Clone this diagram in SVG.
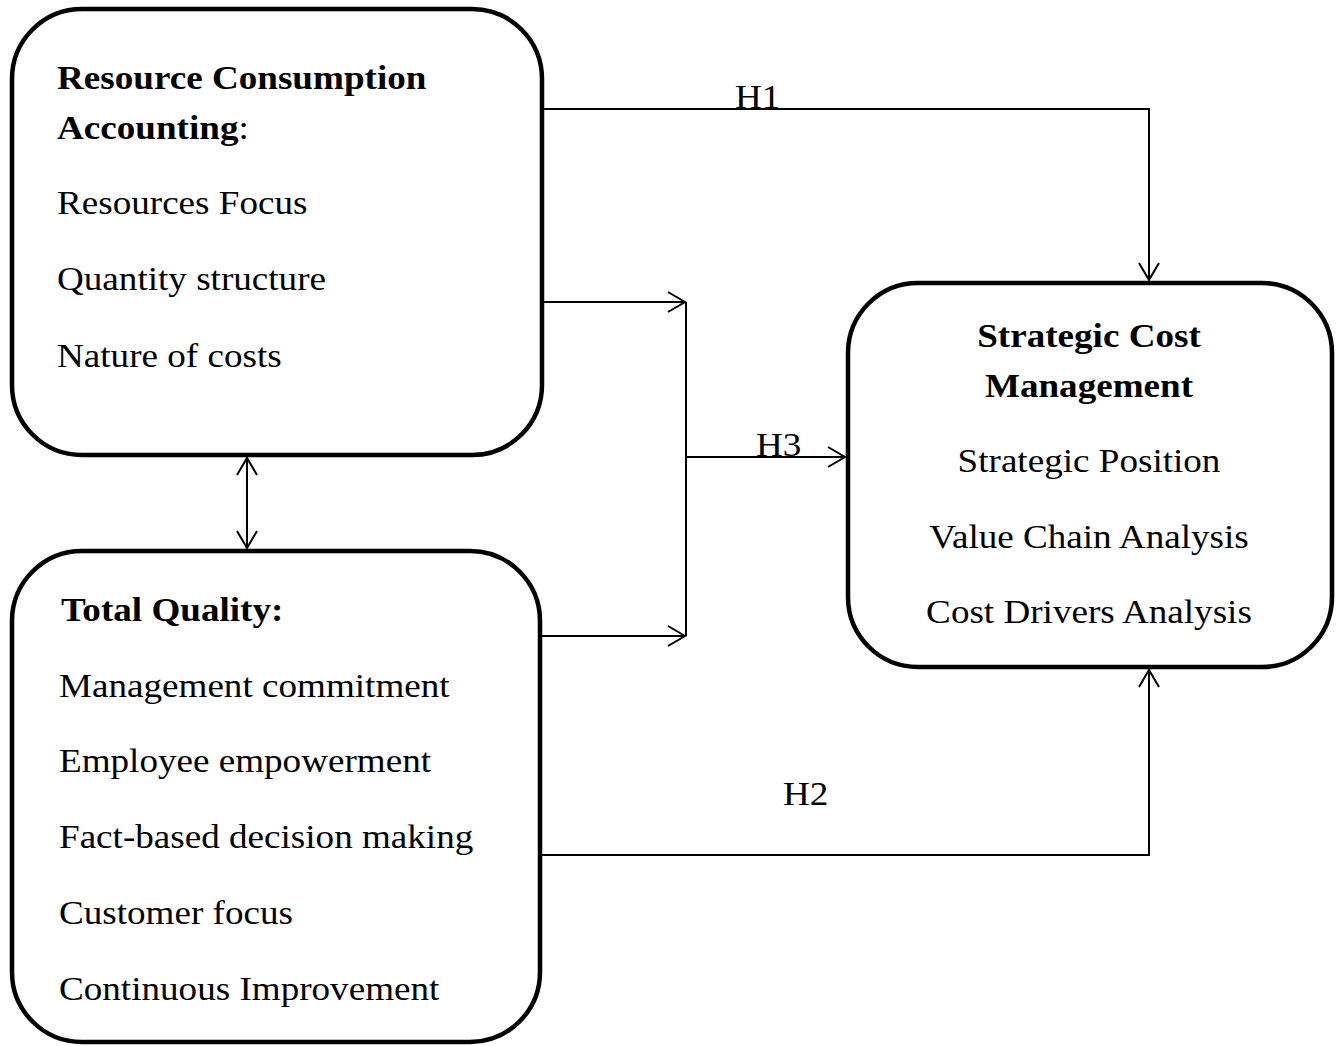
<svg xmlns="http://www.w3.org/2000/svg" width="1342" height="1046" viewBox="0 0 1342 1046">
  <style>
    .box { fill: #ffffff; stroke: #000000; stroke-width: 4.5; }
    .wire { fill: none; stroke: #000000; stroke-width: 2; }
    text { font-family: "Liberation Serif", "Times New Roman", serif; font-size: 33px; fill: #000000; }
    .b { font-weight: bold; }
    .mid { text-anchor: middle; }
  </style>
  <defs>
    <marker id="head" markerUnits="userSpaceOnUse" markerWidth="24" markerHeight="24" viewBox="-20 -12 24 24" refX="0" refY="0" orient="auto-start-reverse">
      <path d="M-17,-10 L0,0 L-17,10" fill="none" stroke="#000000" stroke-width="2"/>
    </marker>
  </defs>
  <rect width="1342" height="1046" fill="#ffffff"/>

  <!-- connectors -->
  <g id="connectors">
    <path class="wire" d="M542,109 H1149 V280" marker-end="url(#head)"/>
    <path class="wire" d="M542,302 H685" marker-end="url(#head)"/>
    <path class="wire" d="M686,302 V636"/>
    <path class="wire" d="M540,636 H685" marker-end="url(#head)"/>
    <path class="wire" d="M686,457 H845" marker-end="url(#head)"/>
    <path class="wire" d="M540,855 H1149 V670" marker-end="url(#head)"/>
    <path class="wire" d="M247,458 V548" marker-start="url(#head)" marker-end="url(#head)"/>
    <text transform="translate(735,108) scale(1.125,1)">H1</text>
    <text transform="translate(756,456) scale(1.125,1)">H3</text>
    <text transform="translate(783,805) scale(1.125,1)">H2</text>
  </g>

  <!-- Resource Consumption Accounting -->
  <g id="rca">
    <rect class="box" x="12" y="9" width="530" height="446" rx="70" ry="70"/>
    <text class="b" transform="translate(57,89) scale(1.125,1)">Resource Consumption</text>
    <text transform="translate(57,139) scale(1.125,1)"><tspan class="b">Accounting</tspan>:</text>
    <text transform="translate(57,214) scale(1.125,1)">Resources Focus</text>
    <text transform="translate(57,290) scale(1.125,1)">Quantity structure</text>
    <text transform="translate(57,367) scale(1.125,1)">Nature of costs</text>
  </g>

  <!-- Total Quality -->
  <g id="tq">
    <rect class="box" x="12" y="551" width="528" height="491" rx="70" ry="70"/>
    <text class="b" transform="translate(61,621) scale(1.125,1)">Total Quality:</text>
    <text transform="translate(59,697) scale(1.125,1)">Management commitment</text>
    <text transform="translate(59,772) scale(1.125,1)">Employee empowerment</text>
    <text transform="translate(59,848) scale(1.125,1)">Fact-based decision making</text>
    <text transform="translate(59,924) scale(1.125,1)">Customer focus</text>
    <text transform="translate(59,1000) scale(1.125,1)">Continuous Improvement</text>
  </g>

  <!-- Strategic Cost Management -->
  <g id="scm">
    <rect class="box" x="848" y="283" width="484" height="384" rx="70" ry="70"/>
    <text class="b mid" transform="translate(1089,347) scale(1.125,1)">Strategic Cost</text>
    <text class="b mid" transform="translate(1089,397) scale(1.125,1)">Management</text>
    <text class="mid" transform="translate(1089,472) scale(1.125,1)">Strategic Position</text>
    <text class="mid" transform="translate(1089,548) scale(1.125,1)">Value Chain Analysis</text>
    <text class="mid" transform="translate(1089,623) scale(1.125,1)">Cost Drivers Analysis</text>
  </g>
</svg>
